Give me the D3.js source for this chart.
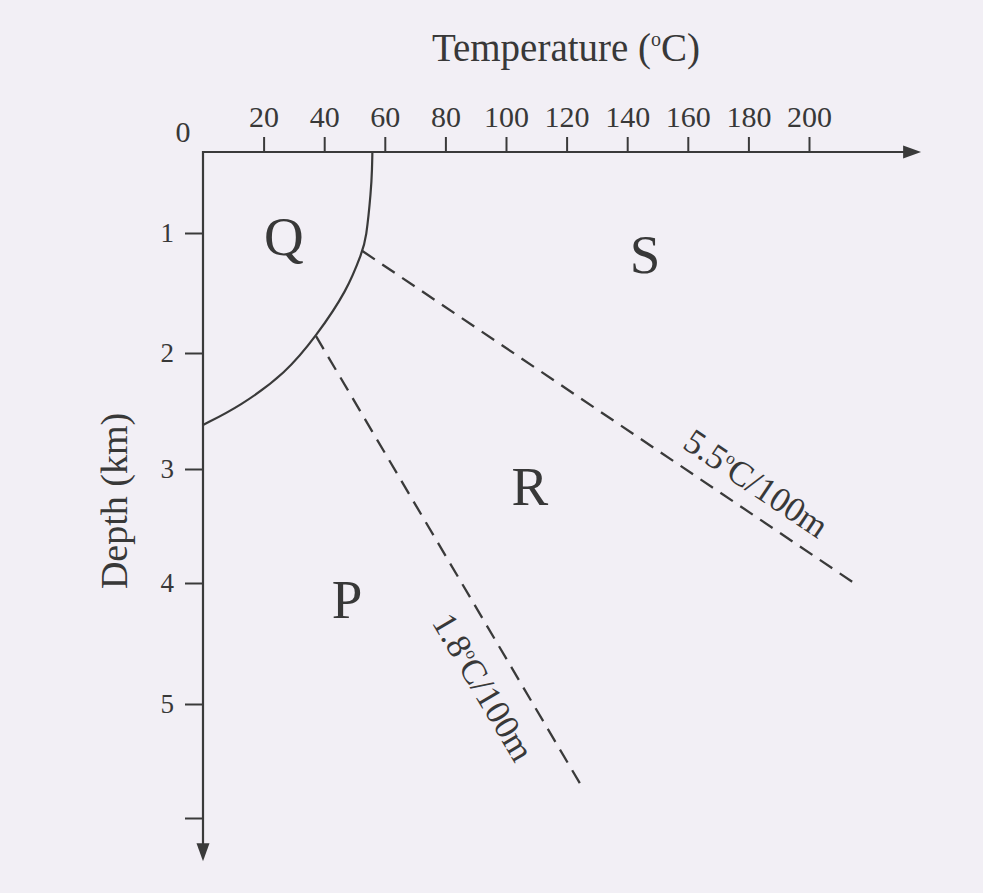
<!DOCTYPE html>
<html>
<head>
<meta charset="utf-8">
<script src="https://cdn.jsdelivr.net/npm/d3@7"></script>
<style>
  html, body { margin: 0; padding: 0; background: #f2eff5; }
  svg { display: block; }
  text { font-family: "Liberation Serif", "DejaVu Serif", serif; fill: #383838; }
</style>
</head>
<body>
<svg id="chart" width="983" height="893"></svg>
<script>
// ---- data ----
const tempTicks = [20, 40, 60, 80, 100, 120, 140, 160, 180, 200];
const depthTicks = [1, 2, 3, 4, 5, 6];
const depthTickLabels = ["1", "2", "3", "4", "5", ""];
// Q boundary curve (temperature °C, depth km)
const boundaryTemp  = [55.9, 55.8, 55.5, 53.8, 52.6, 47.6, 37.3, 27.5, 12.2, 0];
const boundaryDepth = [0, 0.2, 0.47, 1.06, 1.15, 1.48, 1.86, 2.17, 2.46, 2.62];
// geothermal gradient lines: [start, end]
const grad55Temp  = [52.6, 214.3];
const grad55Depth = [1.15, 3.99];
const grad18Temp  = [37.3, 124.7];
const grad18Depth = [1.86, 5.71];
// region labels (baseline positions)
const regionNames = ["Q", "S", "R", "P"];
const regionTemp  = [26.7, 145.9, 107.9, 47.5];
const regionDepth = [1.18, 1.33, 3.32, 4.29];
const axisTempMax = 237;
const axisDepthMax = 6.38;

// ---- scales ----
const svg = d3.select("#chart");
const x = d3.scaleLinear().domain([0, 200]).range([203, 809]);
// hand-drawn depth axis: tick spacing as drawn
const y = d3.scaleLinear().domain([0, 1, 2, 3, 4, 5, 6]).range([152, 233, 353, 469, 583, 704, 818]);
const ink = "#3a3a3a";

// axes lines with arrows
const ax = x(axisTempMax), ay = y(axisDepthMax);
svg.append("line").attr("x1", x(0)).attr("y1", y(0)).attr("x2", ax - 12).attr("y2", y(0))
  .attr("stroke", ink).attr("stroke-width", 2.2);
svg.append("path")
  .attr("d", `M${ax},${y(0)} L${ax - 18},${y(0) - 6.5} L${ax - 18},${y(0) + 6.5} Z`)
  .attr("fill", ink);
svg.append("line").attr("x1", x(0)).attr("y1", y(0) - 1.1).attr("x2", x(0)).attr("y2", ay - 12)
  .attr("stroke", ink).attr("stroke-width", 2.2);
svg.append("path")
  .attr("d", `M${x(0)},${ay} L${x(0) - 6.5},${ay - 18} L${x(0) + 6.5},${ay - 18} Z`)
  .attr("fill", ink);

// x axis (top)
const xAxis = svg.append("g").attr("transform", `translate(0,${y(0)})`)
  .call(d3.axisTop(x).tickValues(tempTicks).tickSize(15).tickPadding(10));
xAxis.select(".domain").remove();
xAxis.selectAll(".tick line").attr("stroke", ink).attr("stroke-width", 2);
xAxis.selectAll(".tick text").style("font-size", "30px").style("font-family", "Liberation Serif").attr("fill", "#383838");

svg.append("text").attr("x", 183).attr("y", 142).attr("text-anchor", "middle")
  .style("font-size", "30px").text("0");

// y axis (left)
const yAxis = svg.append("g").attr("transform", `translate(${x(0)},0)`)
  .call(d3.axisLeft(y).tickValues(depthTicks).tickSize(18).tickPadding(11)
    .tickFormat((d, i) => depthTickLabels[i]));
yAxis.select(".domain").remove();
yAxis.selectAll(".tick line").attr("stroke", ink).attr("stroke-width", 2);
yAxis.selectAll(".tick text").style("font-size", "27px").style("font-family", "Liberation Serif").attr("fill", "#383838");

// titles
const title = svg.append("text").attr("x", 566).attr("y", 61).attr("text-anchor", "middle")
  .style("font-size", "39px");
title.append("tspan").text("Temperature (");
title.append("tspan").attr("dy", -15).style("font-size", "20px").text("o");
title.append("tspan").attr("dy", 15).text("C)");

svg.append("text").attr("transform", "translate(127,501) rotate(-90)").attr("text-anchor", "middle")
  .style("font-size", "38px").text("Depth (km)");

// boundary curve
const pts = boundaryTemp.map((t, i) => [x(t), y(boundaryDepth[i])]);
svg.append("path").attr("d", d3.line().curve(d3.curveBasis)(pts))
  .attr("fill", "none").attr("stroke", ink).attr("stroke-width", 2.2);

// gradient lines
function gradLine(ts, ds) {
  svg.append("line")
    .attr("x1", x(ts[0])).attr("y1", y(ds[0])).attr("x2", x(ts[1])).attr("y2", y(ds[1]))
    .attr("stroke", ink).attr("stroke-width", 2.3).attr("stroke-dasharray", "15,9");
}
gradLine(grad55Temp, grad55Depth);
gradLine(grad18Temp, grad18Depth);

function rateLabel(ts, ds, f, dy, value) {
  const x0 = x(ts[0]), y0 = y(ds[0]), x1 = x(ts[1]), y1 = y(ds[1]);
  const ang = Math.atan2(y1 - y0, x1 - x0) * 180 / Math.PI;
  const px = x0 + (x1 - x0) * f, py = y0 + (y1 - y0) * f;
  const t = svg.append("text").attr("transform", `translate(${px},${py}) rotate(${ang})`)
    .attr("text-anchor", "middle").attr("y", dy).style("font-size", "35px");
  t.append("tspan").text(value);
  t.append("tspan").attr("dy", -13).style("font-size", "17px").text("o");
  t.append("tspan").attr("dy", 13).text("C/100m");
}
rateLabel(grad55Temp, grad55Depth, 0.772, -16, "5.5");
rateLabel(grad18Temp, grad18Depth, 0.743, 46, "1.8");

// region labels
svg.selectAll("text.region").data(regionNames).enter().append("text")
  .attr("class", "region")
  .attr("x", (d, i) => x(regionTemp[i]))
  .attr("y", (d, i) => y(regionDepth[i]))
  .attr("text-anchor", "middle")
  .style("font-size", "55px").text(d => d);
</script>
</body>
</html>
